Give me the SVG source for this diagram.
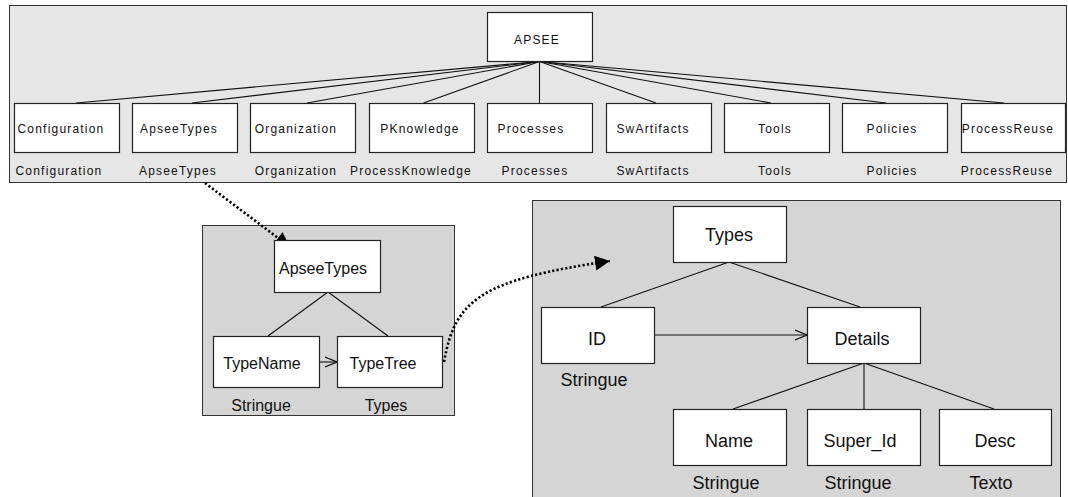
<svg xmlns="http://www.w3.org/2000/svg" width="1068" height="497" viewBox="0 0 1068 497">
  <style>
    .panel-top { fill: #e6e6e6; stroke: #333; stroke-width: 1; }
    .panel { fill: #d5d5d5; stroke: #333; stroke-width: 1; }
    .box { fill: #fff; stroke: #222; stroke-width: 1.2; }
    .t { font-family: "Liberation Sans", Arial, sans-serif; font-size: 12px; letter-spacing: 1.2px; fill: #111; text-anchor: middle; }
    .m { font-family: "Liberation Sans", Arial, sans-serif; font-size: 16px; fill: #111; text-anchor: middle; }
    .r { font-family: "Liberation Sans", Arial, sans-serif; font-size: 18px; fill: #111; text-anchor: middle; }
    .edge { fill: none; stroke: #111; stroke-width: 1.1; }
    .dots { fill: none; stroke: #000; stroke-width: 2.6; stroke-dasharray: 2.2 2.2; }
  </style>
  <defs>
    <marker id="solidHead" viewBox="0 0 10 10" refX="10" refY="5" markerWidth="15" markerHeight="15" markerUnits="userSpaceOnUse" orient="auto">
      <path d="M0,0 L10,5 L0,10 z" fill="#000"/>
    </marker>
    <marker id="openHead" viewBox="0 0 12 12" refX="12" refY="6" markerWidth="12" markerHeight="12" markerUnits="userSpaceOnUse" orient="auto">
      <path d="M0,1 L12,6 L0,11" fill="none" stroke="#111" stroke-width="1.2"/>
    </marker>
    <clipPath id="cfgClip">
      <rect x="17" y="103" width="102" height="49"/>
    </clipPath>
  </defs>

  <!-- background panels -->
  <g id="panels">
    <rect class="panel-top" x="9.5" y="5.5" width="1057" height="177"/>
    <rect class="panel" x="202.5" y="225.5" width="252" height="190"/>
    <rect class="panel" x="532.5" y="200.5" width="528" height="300"/>
  </g>

  <!-- connectors -->
  <g id="connectors">
    <!-- APSEE to its modules -->
    <line class="edge" x1="539.5" y1="61.5" x2="76" y2="103"/>
    <line class="edge" x1="539.5" y1="61.5" x2="192" y2="103"/>
    <line class="edge" x1="539.5" y1="61.5" x2="307" y2="103"/>
    <line class="edge" x1="539.5" y1="61.5" x2="423.5" y2="103"/>
    <line class="edge" x1="539.5" y1="61.5" x2="539.5" y2="103"/>
    <line class="edge" x1="539.5" y1="61.5" x2="656" y2="103"/>
    <line class="edge" x1="539.5" y1="61.5" x2="771" y2="103"/>
    <line class="edge" x1="539.5" y1="61.5" x2="886" y2="103"/>
    <line class="edge" x1="539.5" y1="61.5" x2="1004" y2="103"/>
    <!-- ApseeTypes structure -->
    <line class="edge" x1="328" y1="292" x2="268" y2="336"/>
    <line class="edge" x1="328" y1="292" x2="388" y2="336"/>
    <line class="edge" x1="319" y1="362" x2="337" y2="362" marker-end="url(#openHead)"/>
    <!-- Types structure -->
    <line class="edge" x1="729" y1="262" x2="601" y2="307"/>
    <line class="edge" x1="729" y1="262" x2="860" y2="307"/>
    <line class="edge" x1="654" y1="335" x2="807" y2="335" marker-end="url(#openHead)"/>
    <line class="edge" x1="864" y1="363" x2="733" y2="409"/>
    <line class="edge" x1="864" y1="363" x2="864" y2="409"/>
    <line class="edge" x1="864" y1="363" x2="994" y2="409"/>
    <!-- expansion links -->
    <path class="dots" d="M205,183 L290,247" marker-end="url(#solidHead)"/>
    <path class="dots" d="M444,362 C455,300 480,280 610,261" marker-end="url(#solidHead)"/>
  </g>

  <!-- nodes -->
  <g id="nodes">
    <g id="apsee">
      <rect class="box" x="487.5" y="12.5" width="105" height="49"/>
      <text class="t" x="537" y="44">APSEE</text>
    </g>
    <g id="configuration">
      <rect class="box" x="14.5" y="103.5" width="105" height="49"/>
      <text class="t" x="61" y="133" clip-path="url(#cfgClip)">Configuration</text>
      <text class="t" x="59" y="175">Configuration</text>
    </g>
    <g id="apseetypes">
      <rect class="box" x="132.5" y="103.5" width="105" height="49"/>
      <text class="t" x="179" y="133">ApseeTypes</text>
      <text class="t" x="178" y="175">ApseeTypes</text>
    </g>
    <g id="organization">
      <rect class="box" x="250.5" y="103.5" width="105" height="49"/>
      <text class="t" x="296" y="133">Organization</text>
      <text class="t" x="296" y="175">Organization</text>
    </g>
    <g id="pknowledge">
      <rect class="box" x="369.5" y="103.5" width="105" height="49"/>
      <text class="t" x="420" y="133">PKnowledge</text>
      <text class="t" x="411" y="175">ProcessKnowledge</text>
    </g>
    <g id="processes">
      <rect class="box" x="487.5" y="103.5" width="105" height="49"/>
      <text class="t" x="531" y="133">Processes</text>
      <text class="t" x="535" y="175">Processes</text>
    </g>
    <g id="swartifacts">
      <rect class="box" x="606.5" y="103.5" width="105" height="49"/>
      <text class="t" x="653" y="133">SwArtifacts</text>
      <text class="t" x="653" y="175">SwArtifacts</text>
    </g>
    <g id="tools">
      <rect class="box" x="724.5" y="103.5" width="105" height="49"/>
      <text class="t" x="775" y="133">Tools</text>
      <text class="t" x="775" y="175">Tools</text>
    </g>
    <g id="policies">
      <rect class="box" x="842.5" y="103.5" width="105" height="49"/>
      <text class="t" x="892" y="133">Policies</text>
      <text class="t" x="892" y="175">Policies</text>
    </g>
    <g id="processreuse">
      <rect class="box" x="961.5" y="103.5" width="104" height="49"/>
      <text class="t" x="1008" y="133">ProcessReuse</text>
      <text class="t" x="1007" y="175">ProcessReuse</text>
    </g>

    <g id="apseetypes-root">
      <rect class="box" x="274.5" y="240.5" width="106" height="52"/>
      <text class="m" x="323" y="274">ApseeTypes</text>
    </g>
    <g id="typename">
      <rect class="box" x="213.5" y="336.5" width="106" height="51"/>
      <text class="m" x="262" y="369">TypeName</text>
      <text class="m" x="261" y="411">Stringue</text>
    </g>
    <g id="typetree">
      <rect class="box" x="337.5" y="336.5" width="105" height="51"/>
      <text class="m" x="383" y="369">TypeTree</text>
      <text class="m" x="386" y="411">Types</text>
    </g>

    <g id="types">
      <rect class="box" x="673.5" y="206.5" width="113" height="56"/>
      <text class="r" x="729" y="241">Types</text>
    </g>
    <g id="id">
      <rect class="box" x="541.5" y="307.5" width="113" height="56"/>
      <text class="r" x="597" y="345">ID</text>
      <text class="r" x="594" y="386">Stringue</text>
    </g>
    <g id="details">
      <rect class="box" x="807.5" y="307.5" width="113" height="56"/>
      <text class="r" x="862" y="345">Details</text>
    </g>
    <g id="name">
      <rect class="box" x="673.5" y="409.5" width="113" height="56"/>
      <text class="r" x="729" y="447">Name</text>
      <text class="r" x="726" y="489">Stringue</text>
    </g>
    <g id="super-id">
      <rect class="box" x="807.5" y="409.5" width="113" height="56"/>
      <text class="r" x="860" y="447">Super_Id</text>
      <text class="r" x="858" y="489">Stringue</text>
    </g>
    <g id="desc">
      <rect class="box" x="939.5" y="409.5" width="112" height="56"/>
      <text class="r" x="995" y="447">Desc</text>
      <text class="r" x="991" y="489">Texto</text>
    </g>
  </g>
</svg>
